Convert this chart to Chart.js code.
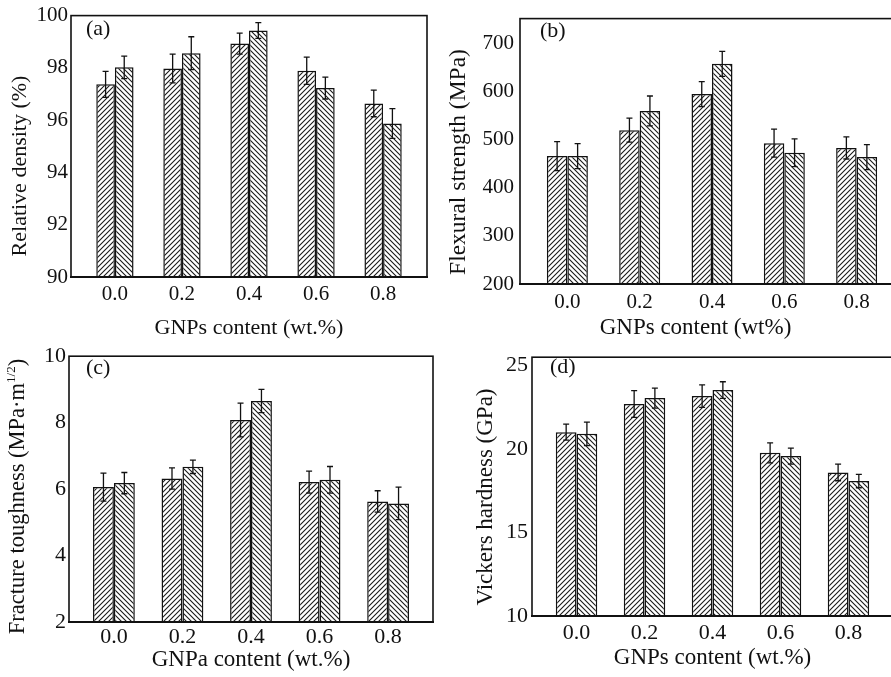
<!DOCTYPE html>
<html><head><meta charset="utf-8">
<script src="https://cdn.jsdelivr.net/npm/chart.js@4/dist/chart.umd.min.js"></script>
<style>
html,body{margin:0;padding:0;background:#fff;overflow:hidden;width:891px;height:677px;position:relative;}
canvas{position:absolute;}
</style></head><body>
<canvas id="ca" style="left:0px;top:0px" width="440" height="340"></canvas>
<canvas id="cb" style="left:440px;top:0px" width="480" height="340"></canvas>
<canvas id="cc" style="left:0px;top:340px" width="440" height="337"></canvas>
<canvas id="cd" style="left:440px;top:340px" width="460" height="337"></canvas>
<script>
// ---------- data ----------
const categories = [0.0, 0.2, 0.4, 0.6, 0.8];
const categoryLabels = ['0.0', '0.2', '0.4', '0.6', '0.8'];

const densityLeft = [97.37, 97.98, 98.93, 97.89, 96.64];
const densityRight = [98.02, 98.56, 99.43, 97.23, 95.87];
const densityLeftErr = [0.50, 0.55, 0.40, 0.52, 0.51];
const densityRightErr = [0.43, 0.63, 0.30, 0.42, 0.57];
const densityTicks = [90, 92, 94, 96, 98, 100];

const strengthLeft = [466, 520, 595, 493, 483];
const strengthRight = [466, 560, 658, 473, 464];
const strengthLeftErr = [30, 25, 26, 29, 23];
const strengthRightErr = [26, 31, 26, 29, 26];
const strengthTicks = [200, 300, 400, 500, 600, 700];

const toughnessLeft = [6.06, 6.32, 8.08, 6.21, 5.63];
const toughnessRight = [6.18, 6.67, 8.65, 6.28, 5.57];
const toughnessLeftErr = [0.42, 0.32, 0.51, 0.33, 0.32];
const toughnessRightErr = [0.32, 0.20, 0.35, 0.40, 0.49];
const toughnessTicks = [2, 4, 6, 8, 10];

const hardnessLeft = [21.01, 22.70, 23.17, 19.77, 18.60];
const hardnessRight = [20.91, 23.05, 23.53, 19.58, 18.08];
const hardnessLeftErr = [0.48, 0.80, 0.67, 0.60, 0.50];
const hardnessRightErr = [0.70, 0.60, 0.50, 0.48, 0.40];
const hardnessTicks = [10, 15, 20, 25];

// ---------- helpers ----------
const FONT = "'Liberation Serif', 'Times New Roman', serif";

function hatch(ctx, dir) {
  const S = 5;
  const c = document.createElement('canvas');
  c.width = S; c.height = S;
  const g = c.getContext('2d');
  g.fillStyle = '#fff'; g.fillRect(0, 0, S, S);
  g.strokeStyle = '#1a1a1a'; g.lineWidth = 1.1;
  g.beginPath();
  if (dir > 0) {
    g.moveTo(-1, S + 1); g.lineTo(S + 1, -1);
    g.moveTo(-1, 1); g.lineTo(1, -1);
    g.moveTo(S - 1, S + 1); g.lineTo(S + 1, S - 1);
  } else {
    g.moveTo(-1, -1); g.lineTo(S + 1, S + 1);
    g.moveTo(S - 1, -1); g.lineTo(S + 1, 1);
    g.moveTo(-1, S - 1); g.lineTo(1, S + 1);
  }
  g.stroke();
  return ctx.createPattern(c, 'repeat');
}

const errorBarPlugin = {
  id: 'errorBars',
  afterDatasetsDraw(chart) {
    const ctx = chart.ctx;
    const yScale = chart.scales.y;
    ctx.save();
    ctx.strokeStyle = '#111';
    ctx.lineWidth = 1.3;
    chart.data.datasets.forEach((ds, i) => {
      const meta = chart.getDatasetMeta(i);
      meta.data.forEach((el, j) => {
        const v = ds.data[j].y, e = ds.errors[j];
        const yt = yScale.getPixelForValue(v + e);
        const yb = yScale.getPixelForValue(v - e);
        const x = el.x;
        ctx.beginPath();
        ctx.moveTo(x, yt); ctx.lineTo(x, yb);
        ctx.moveTo(x - 3, yt); ctx.lineTo(x + 3, yt);
        ctx.moveTo(x - 3, yb); ctx.lineTo(x + 3, yb);
        ctx.stroke();
      });
    });
    ctx.restore();
  }
};

const framePlugin = {
  id: 'frame',
  afterDraw(chart) {
    const {left, right, top, bottom} = chart.chartArea;
    const ctx = chart.ctx;
    ctx.save();
    ctx.strokeStyle = '#111';
    ctx.lineWidth = 1.6;
    ctx.strokeRect(left, top, right - left, bottom - top);
    ctx.lineWidth = 2.2;
    ctx.beginPath(); ctx.moveTo(left - 1, bottom); ctx.lineTo(right + 1, bottom); ctx.stroke();
    ctx.restore();
  }
};

const textPlugin = {
  id: 'texts',
  afterDraw(chart, args, opts) {
    const ctx = chart.ctx;
    (opts.items || []).forEach(it => {
      ctx.save();
      ctx.translate(it.x, it.y);
      if (it.rot) ctx.rotate(it.rot);
      ctx.fillStyle = '#111';
      ctx.textBaseline = 'middle';
      const parts = it.parts || [{t: it.t, s: it.s, dy: 0}];
      let total = 0;
      parts.forEach(p => { ctx.font = p.s + 'px ' + FONT; p.w = ctx.measureText(p.t).width; total += p.w; });
      let x0 = it.align === 'left' ? 0 : -total / 2;
      ctx.textAlign = 'left';
      parts.forEach(p => {
        ctx.font = p.s + 'px ' + FONT;
        ctx.fillText(p.t, x0, p.dy || 0);
        x0 += p.w;
      });
      ctx.restore();
    });
  }
};

function makePanel(id, cfg) {
  const canvas = document.getElementById(id);
  const ctx = canvas.getContext('2d');
  const mk = (vals) => categories.map((c, i) => ({x: c, y: vals[i]}));
  return new Chart(ctx, {
    type: 'bar',
    data: {
      datasets: [
        {data: mk(cfg.left), errors: cfg.leftErr, backgroundColor: hatch(ctx, 1), borderColor: '#111', borderWidth: 1.5, borderSkipped: false},
        {data: mk(cfg.right), errors: cfg.rightErr, backgroundColor: hatch(ctx, -1), borderColor: '#111', borderWidth: 1.5, borderSkipped: false}
      ]
    },
    options: {
      responsive: false,
      animation: false,
      devicePixelRatio: 1,
      layout: {padding: cfg.pad},
      datasets: {bar: {categoryPercentage: cfg.catPct, barPercentage: 1.0}},
      plugins: {
        legend: {display: false},
        tooltip: {enabled: false},
        texts: {items: cfg.texts}
      },
      scales: {
        x: {
          type: 'linear',
          min: -0.131, max: 0.931,
          offset: false,
          grid: {display: false, offset: false, drawTicks: false},
          border: {display: false},
          afterBuildTicks: (s) => { s.ticks = categories.map(v => ({value: v})); },
          afterFit: (s) => { s.height = cfg.xAxisH; },
          ticks: {
            color: '#111', padding: cfg.xTickPad, maxRotation: 0, autoSkip: false,
            font: {family: FONT, size: cfg.tickSize},
            callback: (v) => { const i = categories.findIndex(c => Math.abs(c - v) < 1e-6); return i >= 0 ? categoryLabels[i] : ''; }
          }
        },
        y: {
          min: cfg.yMin, max: cfg.yMax,
          grid: {display: false, drawTicks: false},
          border: {display: false},
          afterBuildTicks: (s) => { s.ticks = cfg.yTicks.map(v => ({value: v})); },
          afterFit: (s) => { s.width = cfg.yAxisW; },
          ticks: {color: '#111', padding: cfg.yTickPad, font: {family: FONT, size: cfg.tickSize}}
        }
      }
    },
    plugins: [errorBarPlugin, framePlugin, textPlugin]
  });
}

const R = -Math.PI / 2;

makePanel('ca', {
  left: densityLeft, right: densityRight, leftErr: densityLeftErr, rightErr: densityRightErr,
  yTicks: densityTicks, yMin: 90, yMax: 100,
  pad: {top: 13, right: 13, left: 0, bottom: 0},
  yAxisW: 71, xAxisH: 63, catPct: 0.556, tickSize: 21, xTickPad: 5, yTickPad: 3,
  texts: [
    {t: '(a)', s: 22, x: 86, y: 29, align: 'left'},
    {t: 'Relative density (%)', s: 22, x: 20, y: 166, rot: R},
    {t: 'GNPs content (wt.%)', s: 22, x: 249, y: 328}
  ]
});

makePanel('cb', {
  left: strengthLeft, right: strengthRight, leftErr: strengthLeftErr, rightErr: strengthRightErr,
  yTicks: strengthTicks, yMin: 200, yMax: 752,
  pad: {top: 7, right: 16, left: 0, bottom: 0},
  yAxisW: 80, xAxisH: 56, catPct: 0.567, tickSize: 21, xTickPad: 5.5, yTickPad: 6,
  texts: [
    {t: '(b)', s: 22, x: 100, y: 31, align: 'left'},
    {t: 'Flexural strength (MPa)', s: 23.5, x: 18.5, y: 162, rot: R},
    {t: 'GNPs content (wt%)', s: 23, x: 255.5, y: 328}
  ]
});

makePanel('cc', {
  left: toughnessLeft, right: toughnessRight, leftErr: toughnessLeftErr, rightErr: toughnessRightErr,
  yTicks: toughnessTicks, yMin: 2, yMax: 10,
  pad: {top: 11, right: 7, left: 0, bottom: 0},
  yAxisW: 69, xAxisH: 55, catPct: 0.61, tickSize: 22, xTickPad: 2.5, yTickPad: 3,
  texts: [
    {t: '(c)', s: 22, x: 86, y: 28, align: 'left'},
    {parts: [{t: 'Fracture toughness (MPa·m', s: 22.5}, {t: '1/2', s: 13, dy: -7}, {t: ')', s: 22.5}], x: 18.5, y: 156.5, rot: R},
    {t: 'GNPa content (wt.%)', s: 23, x: 251, y: 320}
  ]
});

makePanel('cd', {
  left: hardnessLeft, right: hardnessRight, leftErr: hardnessLeftErr, rightErr: hardnessRightErr,
  yTicks: hardnessTicks, yMin: 10, yMax: 25.5,
  pad: {top: 8, right: 7, left: 0, bottom: 0},
  yAxisW: 92, xAxisH: 61, catPct: 0.61, tickSize: 22, xTickPad: 4.5, yTickPad: 4,
  texts: [
    {t: '(d)', s: 22, x: 110, y: 27.5, align: 'left'},
    {t: 'Vickers hardness (GPa)', s: 23, x: 46, y: 157, rot: R},
    {t: 'GNPs content (wt.%)', s: 23, x: 272.5, y: 318}
  ]
});
</script>
</body></html>
